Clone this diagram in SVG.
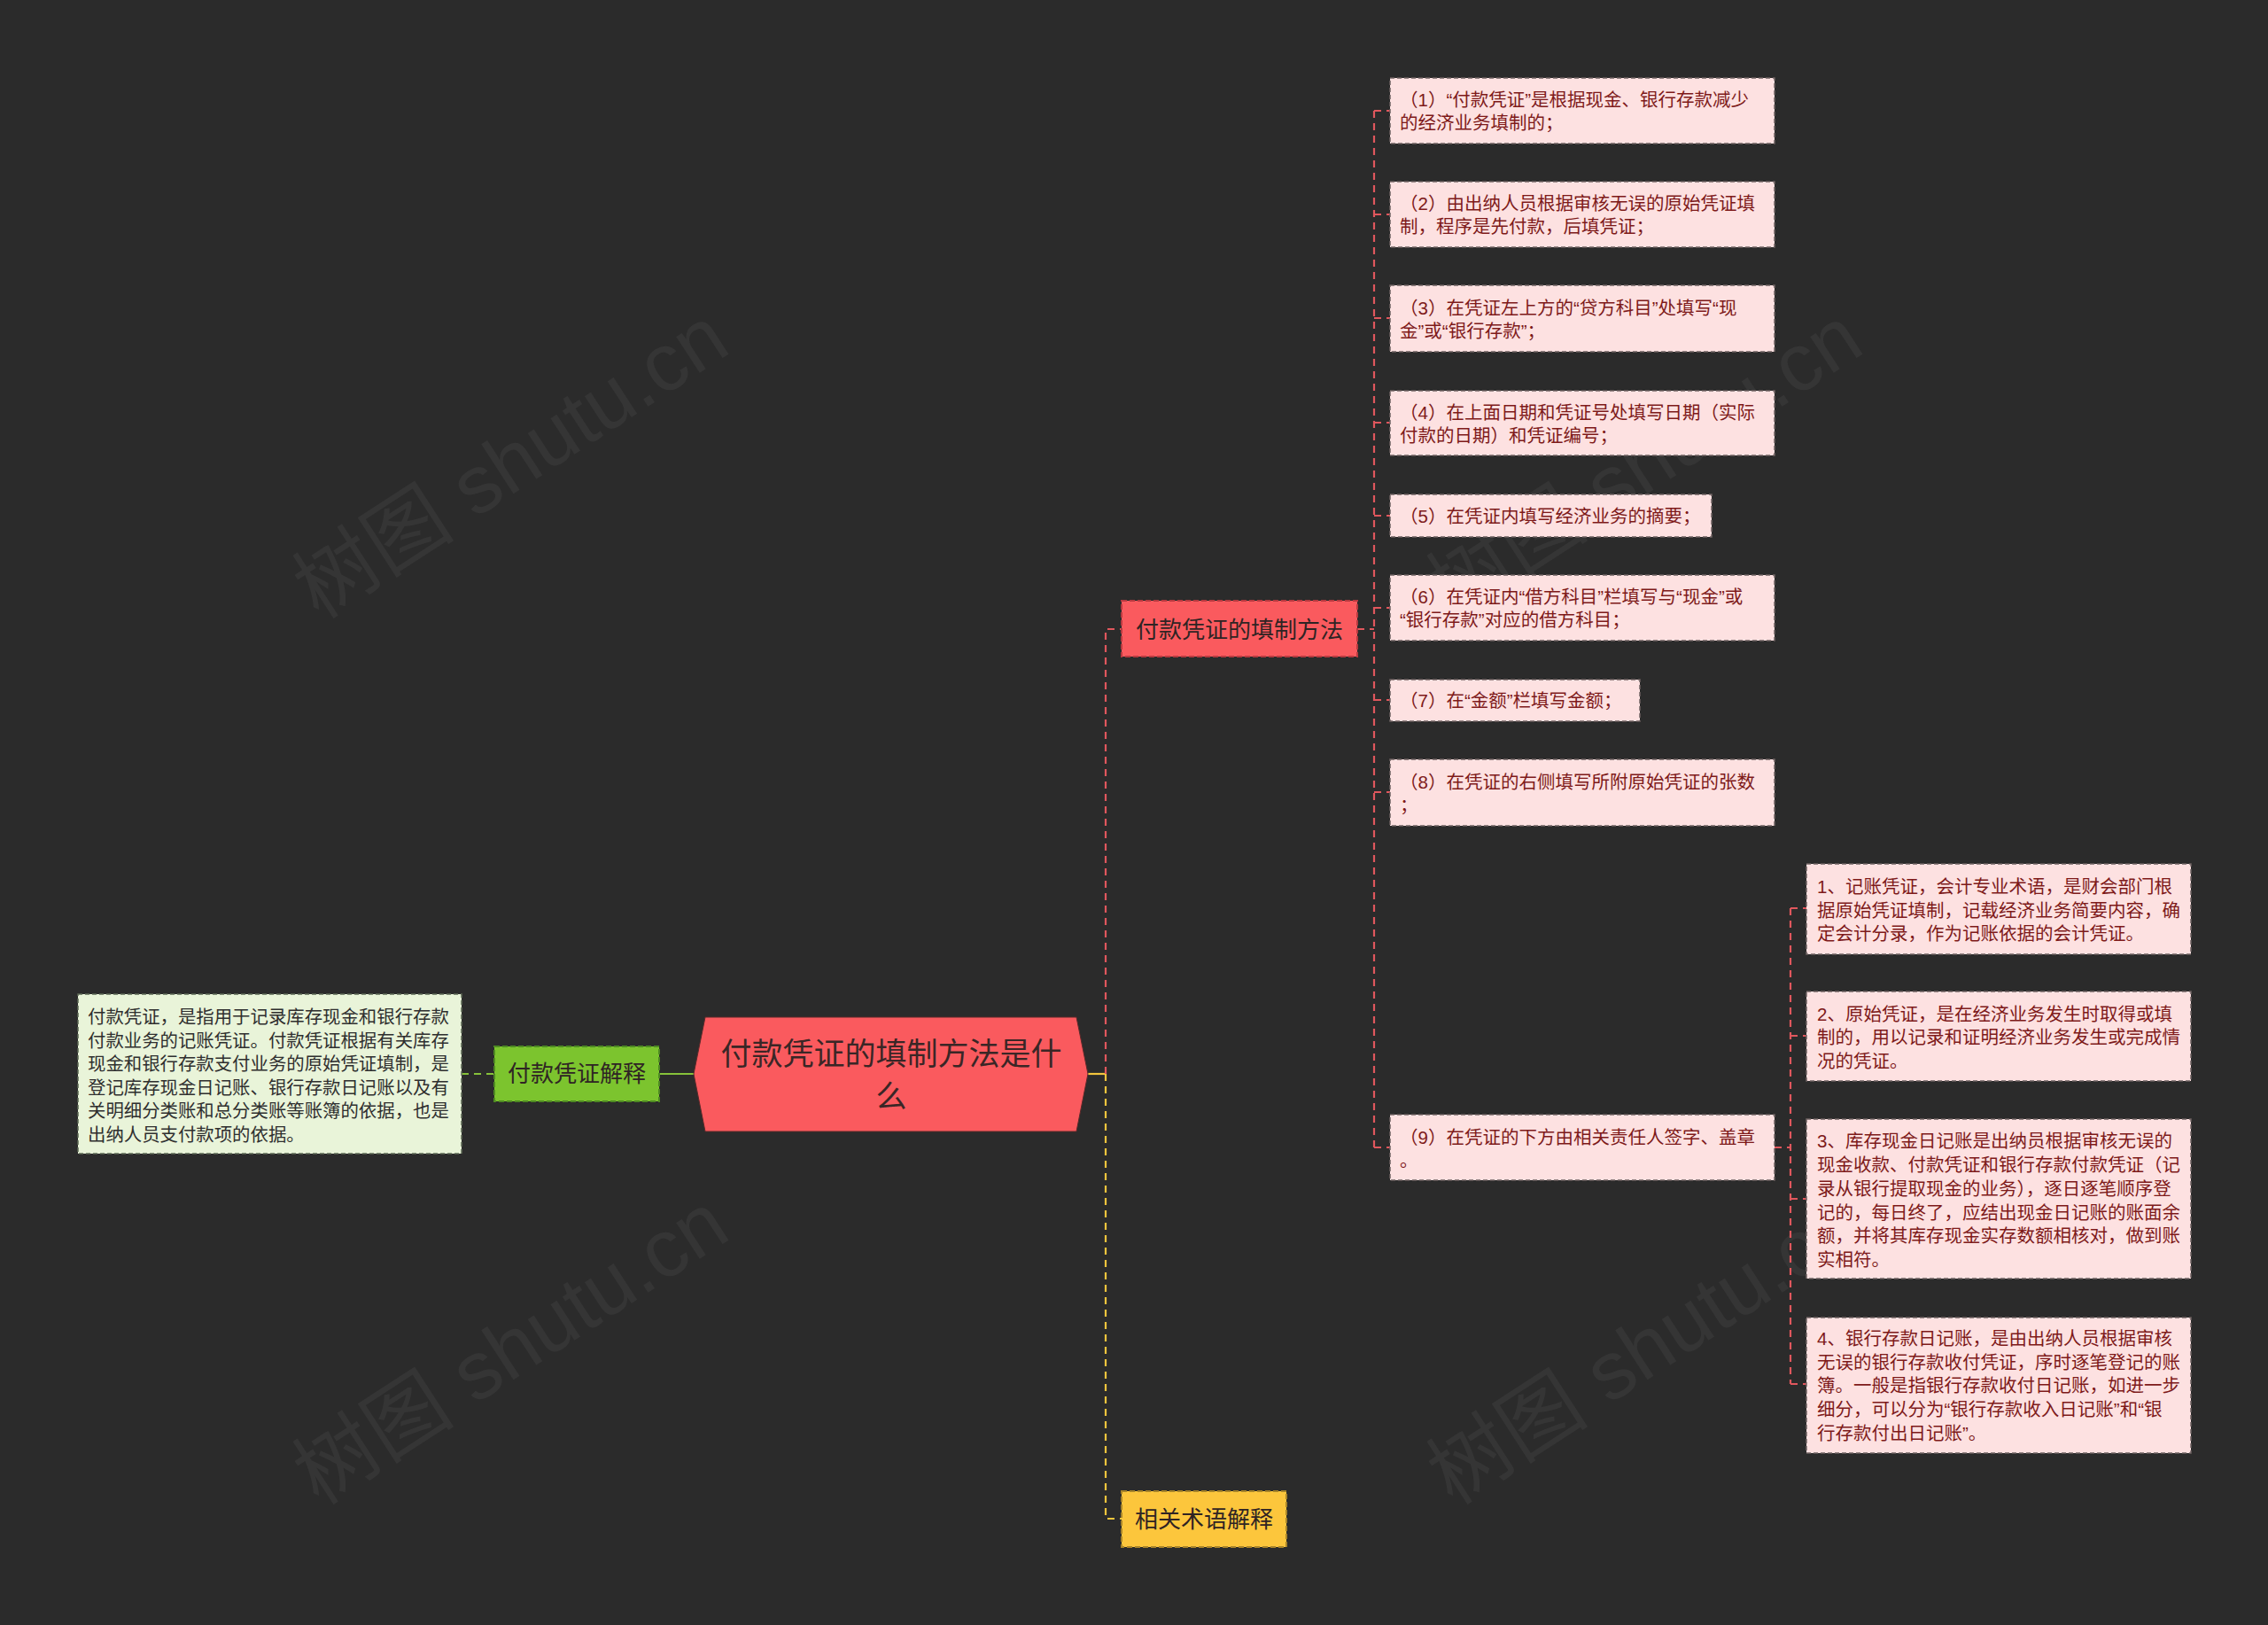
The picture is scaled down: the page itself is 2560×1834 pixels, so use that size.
<svg xmlns="http://www.w3.org/2000/svg" width="2560" height="1834" viewBox="0 0 2560 1834">
<style>
text{font-family:"Liberation Sans","Noto Sans CJK SC",sans-serif;dominant-baseline:central}
.bg{fill:#2b2b2b}
.wm{font-size:92px;fill:#ffffff;fill-opacity:0.05;dominant-baseline:auto}
.leaf{fill:#fde1e1;stroke:#6e6262;stroke-width:1.5;stroke-dasharray:5 3}
.leaft{font-size:20.5px;fill:#7e1a1a}
.desc{fill:#e9f4d9;stroke:#5e6a55;stroke-width:1.5;stroke-dasharray:5 3}
.desct{font-size:20.4px;fill:#2f2f2f}
.sub{stroke-width:2;stroke-dasharray:6 3}
.subt{font-size:26px;fill:#2f2424}
.red{stroke:#e0575d;stroke-width:2.2;fill:none;stroke-dasharray:8 6}
.yel{stroke:#f2c53d;stroke-width:2.2;fill:none;stroke-dasharray:8 6}
.grn{stroke:#86c23a;stroke-width:2.2;fill:none}
</style>
<rect class="bg" x="0" y="0" width="2560" height="1834"/>
<g id="watermarks">
<text class="wm" transform="translate(360,700) rotate(-33)">树图 shutu.cn</text>
<text class="wm" transform="translate(360,1700) rotate(-33)">树图 shutu.cn</text>
<text class="wm" transform="translate(1640,700) rotate(-33)">树图 shutu.cn</text>
<text class="wm" transform="translate(1640,1700) rotate(-33)">树图 shutu.cn</text>
</g>
<g id="connectors">
<path class="grn" d="M744,1212 H784"/>
<path class="grn" stroke-dasharray="8 6" d="M521,1212 H558"/>
<path class="yel" style="stroke-dasharray:none" d="M1228,1212 H1248"/>
<path class="red" d="M1248,1212 V710 H1266"/>
<path class="yel" d="M1248,1212 V1714 H1266"/>
<path class="red" d="M1532,710 H1551"/>
<path class="red" d="M1551,125 V1295"/>
<path class="red" d="M1551,125 H1569 M1551,242 H1569 M1551,359 H1569 M1551,477 H1569 M1551,582 H1569 M1551,686 H1569 M1551,790 H1569 M1551,894 H1569 M1551,1295 H1569"/>
<path class="red" d="M2003,1295 H2021"/>
<path class="red" d="M2021,1025 V1562"/>
<path class="red" d="M2021,1025 H2039 M2021,1169 H2039 M2021,1353 H2039 M2021,1562 H2039"/>
</g>
<g id="root">
<path d="M783,1212 L796,1148 H1215 L1228,1212 L1215,1277 H796 Z" fill="#fa5a5e" stroke="#5a2a2a" stroke-width="1"/>
<text x="1006" y="1189" text-anchor="middle" font-size="35" fill="#3a2626">付款凭证的填制方法是什</text>
<text x="1006" y="1237" text-anchor="middle" font-size="35" fill="#3a2626">么</text>
</g>
<g id="n-method">
<rect class="sub" x="1266" y="678" width="266" height="63" fill="#fa5a5e" stroke="#b83a40"/>
<text class="subt" x="1399" y="711" text-anchor="middle">付款凭证的填制方法</text>
</g>
<g id="n-terms">
<rect class="sub" x="1266" y="1683" width="186" height="63" fill="#fcc63c" stroke="#a8852a"/>
<text class="subt" x="1359" y="1715" text-anchor="middle">相关术语解释</text>
</g>
<g id="n-explain">
<rect class="sub" x="558" y="1181" width="186" height="62" fill="#7cc42e" stroke="#4e8a22"/>
<text class="subt" x="651" y="1212" text-anchor="middle">付款凭证解释</text>
</g>
<g id="n-explain-desc">
<rect class="desc" x="88" y="1122" width="433" height="180"/>
<text class="desct" x="99" y="1148">付款凭证，是指用于记录库存现金和银行存款</text>
<text class="desct" x="99" y="1175">付款业务的记账凭证。付款凭证根据有关库存</text>
<text class="desct" x="99" y="1201">现金和银行存款支付业务的原始凭证填制，是</text>
<text class="desct" x="99" y="1228">登记库存现金日记账、银行存款日记账以及有</text>
<text class="desct" x="99" y="1254">关明细分类账和总分类账等账簿的依据，也是</text>
<text class="desct" x="99" y="1281">出纳人员支付款项的依据。</text>
</g>
<g id="s1">
<rect class="leaf" x="1569" y="88" width="434" height="74"/>
<text class="leaft" x="1580" y="112">（1）“付款凭证”是根据现金、银行存款减少</text>
<text class="leaft" x="1580" y="138">的经济业务填制的；</text>
</g>
<g id="s2">
<rect class="leaf" x="1569" y="205" width="434" height="74"/>
<text class="leaft" x="1580" y="229">（2）由出纳人员根据审核无误的原始凭证填</text>
<text class="leaft" x="1580" y="255">制，程序是先付款，后填凭证；</text>
</g>
<g id="s3">
<rect class="leaf" x="1569" y="322" width="434" height="75"/>
<text class="leaft" x="1580" y="347">（3）在凭证左上方的“贷方科目”处填写“现</text>
<text class="leaft" x="1580" y="373">金”或“银行存款”；</text>
</g>
<g id="s4">
<rect class="leaf" x="1569" y="441" width="434" height="73"/>
<text class="leaft" x="1580" y="465">（4）在上面日期和凭证号处填写日期（实际</text>
<text class="leaft" x="1580" y="491">付款的日期）和凭证编号；</text>
</g>
<g id="s5">
<rect class="leaf" x="1569" y="558" width="363" height="48"/>
<text class="leaft" x="1580" y="582">（5）在凭证内填写经济业务的摘要；</text>
</g>
<g id="s6">
<rect class="leaf" x="1569" y="649" width="434" height="74"/>
<text class="leaft" x="1580" y="673">（6）在凭证内“借方科目”栏填写与“现金”或</text>
<text class="leaft" x="1580" y="699">“银行存款”对应的借方科目；</text>
</g>
<g id="s7">
<rect class="leaf" x="1569" y="767" width="282" height="47"/>
<text class="leaft" x="1580" y="790">（7）在“金额”栏填写金额；</text>
</g>
<g id="s8">
<rect class="leaf" x="1569" y="857" width="434" height="75"/>
<text class="leaft" x="1580" y="882">（8）在凭证的右侧填写所附原始凭证的张数</text>
<text class="leaft" x="1580" y="908">；</text>
</g>
<g id="s9">
<rect class="leaf" x="1569" y="1258" width="434" height="74"/>
<text class="leaft" x="1580" y="1283">（9）在凭证的下方由相关责任人签字、盖章</text>
<text class="leaft" x="1580" y="1309">。</text>
</g>
<g id="t1">
<rect class="leaf" x="2039" y="975" width="434" height="102"/>
<text class="leaft" x="2051" y="1000">1、记账凭证，会计专业术语，是财会部门根</text>
<text class="leaft" x="2051" y="1027">据原始凭证填制，记载经济业务简要内容，确</text>
<text class="leaft" x="2051" y="1053">定会计分录，作为记账依据的会计凭证。</text>
</g>
<g id="t2">
<rect class="leaf" x="2039" y="1119" width="434" height="101"/>
<text class="leaft" x="2051" y="1144">2、原始凭证，是在经济业务发生时取得或填</text>
<text class="leaft" x="2051" y="1170">制的，用以记录和证明经济业务发生或完成情</text>
<text class="leaft" x="2051" y="1197">况的凭证。</text>
</g>
<g id="t3">
<rect class="leaf" x="2039" y="1263" width="434" height="180"/>
<text class="leaft" x="2051" y="1287">3、库存现金日记账是出纳员根据审核无误的</text>
<text class="leaft" x="2051" y="1314">现金收款、付款凭证和银行存款付款凭证（记</text>
<text class="leaft" x="2051" y="1341">录从银行提取现金的业务），逐日逐笔顺序登</text>
<text class="leaft" x="2051" y="1368">记的，每日终了，应结出现金日记账的账面余</text>
<text class="leaft" x="2051" y="1394">额，并将其库存现金实存数额相核对，做到账</text>
<text class="leaft" x="2051" y="1421">实相符。</text>
</g>
<g id="t4">
<rect class="leaf" x="2039" y="1487" width="434" height="153"/>
<text class="leaft" x="2051" y="1510">4、银行存款日记账，是由出纳人员根据审核</text>
<text class="leaft" x="2051" y="1537">无误的银行存款收付凭证，序时逐笔登记的账</text>
<text class="leaft" x="2051" y="1563">簿。一般是指银行存款收付日记账，如进一步</text>
<text class="leaft" x="2051" y="1590">细分，可以分为“银行存款收入日记账”和“银</text>
<text class="leaft" x="2051" y="1617">行存款付出日记账”。</text>
</g>
</svg>
